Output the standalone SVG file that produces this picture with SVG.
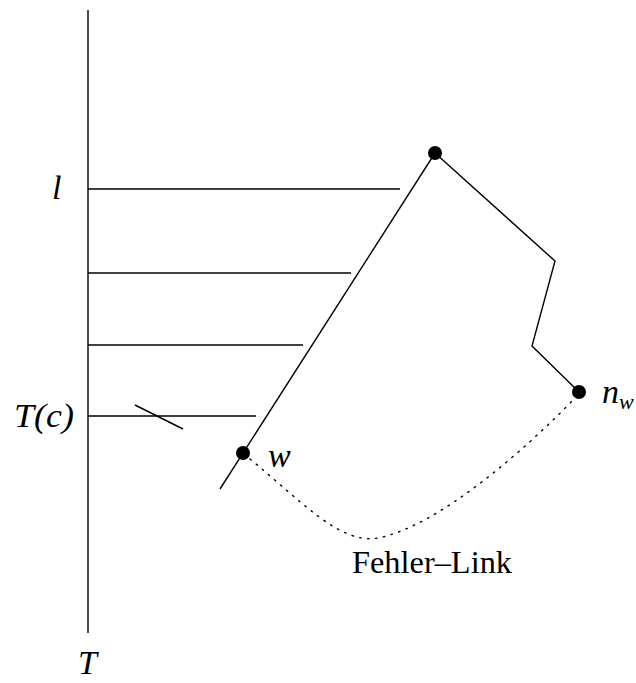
<svg xmlns="http://www.w3.org/2000/svg" width="636" height="683" viewBox="0 0 636 683">
<style>
.ln{stroke:#000;stroke-width:1.4;fill:none}
.dot{fill:#000}
.m{font-family:"Liberation Serif",serif;font-style:italic;font-size:34px;fill:#000}
.t{font-family:"Liberation Serif",serif;font-size:31px;fill:#000}
</style>
<rect width="636" height="683" fill="#fff"/>
<g id="connectors">
<line class="ln" x1="88" y1="10" x2="88" y2="633"/>
<line class="ln" x1="88" y1="189" x2="400" y2="189"/>
<line class="ln" x1="88" y1="273" x2="351" y2="273"/>
<line class="ln" x1="88" y1="345" x2="303" y2="345"/>
<line class="ln" x1="88" y1="416" x2="256" y2="416"/>
<line class="ln" x1="135" y1="405" x2="183" y2="429"/>
<line class="ln" x1="220" y1="489" x2="435" y2="153"/>
<polyline class="ln" points="435,153 555,261 532,346 579,392"/>
<path class="ln" d="M250,459 C300,500 340,545 378,538 C440,526 530,445 575,398" stroke-dasharray="1.5,6.5" stroke-linecap="round"/>
</g>
<g id="n_top"><circle class="dot" cx="435" cy="153" r="7"/></g>
<g id="n_w"><circle class="dot" cx="243" cy="453" r="7"/><text class="m" x="268" y="467">w</text></g>
<g id="n_nw"><circle class="dot" cx="579" cy="392" r="7"/><text class="m" x="602" y="403">n<tspan font-size="22" dy="6">w</tspan></text></g>
<g id="labels">
<text class="m" x="52" y="199">l</text>
<text class="m" x="14" y="427" textLength="60" lengthAdjust="spacingAndGlyphs">T(c)</text>
<text class="m" x="78" y="674">T</text>
<text class="t" x="352" y="573" textLength="160" lengthAdjust="spacingAndGlyphs">Fehler–Link</text>
</g>
</svg>
